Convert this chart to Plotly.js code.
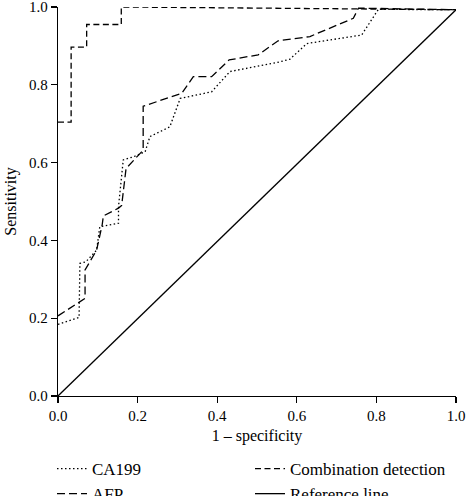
<!DOCTYPE html>
<html>
<head>
<meta charset="utf-8">
<script src="https://cdn.plot.ly/plotly-3.0.1.min.js"></script>
<style>html,body{margin:0;padding:0;background:#fff;}#chart{width:466px;height:496px;}</style>
</head>
<body>
<div id="chart"></div>
<script>
// CA199 ROC curve (dotted)
const ca199X = [0, 0.053, 0.055, 0.07, 0.097, 0.105, 0.152, 0.152, 0.164, 0.19, 0.219, 0.231, 0.281, 0.307, 0.386, 0.432, 0.549, 0.583, 0.625, 0.763, 0.805, 1.0];
const ca199Y = [0.184, 0.202, 0.341, 0.345, 0.375, 0.435, 0.444, 0.487, 0.607, 0.615, 0.628, 0.667, 0.692, 0.765, 0.782, 0.834, 0.857, 0.866, 0.906, 0.928, 0.994, 0.993];
// AFP ROC curve (long dashes)
const afpX = [0, 0.058, 0.068, 0.068, 0.097, 0.111, 0.114, 0.152, 0.160, 0.171, 0.214, 0.214, 0.311, 0.34, 0.386, 0.43, 0.503, 0.553, 0.633, 0.742, 0.755, 1.0];
const afpY = [0.206, 0.245, 0.251, 0.324, 0.375, 0.44, 0.463, 0.483, 0.49, 0.585, 0.632, 0.745, 0.778, 0.821, 0.821, 0.864, 0.877, 0.913, 0.924, 0.971, 0.997, 0.993];
// Combination detection ROC curve (short dashes)
const comboX = [0, 0.033, 0.033, 0.072, 0.072, 0.159, 0.159, 1.0];
const comboY = [0.704, 0.704, 0.897, 0.897, 0.955, 0.955, 1.0, 0.993];
// Reference line
const refX = [0, 1.0];
const refY = [0, 0.993];

const serif = 'Liberation Serif';
const traces = [
  {x: refX, y: refY, mode: 'lines', name: 'Reference line', legendrank: 4,
   line: {color: '#000', width: 1.3, dash: 'solid'}},
  {x: ca199X, y: ca199Y, mode: 'lines', name: 'CA199', legendrank: 1,
   line: {color: '#000', width: 1.3, dash: '1.5px,2.5px'}},
  {x: afpX, y: afpY, mode: 'lines', name: 'AFP', legendrank: 3,
   line: {color: '#000', width: 1.3, dash: '8px,4px'}},
  {x: comboX, y: comboY, mode: 'lines', name: 'Combination detection', legendrank: 2,
   line: {color: '#000', width: 1.3, dash: '6px,3.5px'}}
];

const axisCommon = {
  range: [0, 1], dtick: 0.2, tickformat: '.1f', showgrid: false, zeroline: false,
  showline: true, linecolor: '#000', linewidth: 1.2, ticks: 'outside', ticklen: 6,
  tickwidth: 1.2, tickcolor: '#000', tickfont: {family: serif, size: 15, color: '#000'},
  ticklabeloverflow: 'allow', automargin: false, fixedrange: true
};

const layout = {
  width: 466, height: 496,
  margin: {l: 58, r: 10, t: 7, b: 100},
  paper_bgcolor: '#fff', plot_bgcolor: '#fff',
  font: {family: serif, color: '#000'},
  xaxis: Object.assign({}, axisCommon, {title: {text: '1 – specificity', font: {family: serif, size: 16, color: '#000'}, standoff: 6}}),
  yaxis: Object.assign({}, axisCommon, {title: {text: 'Sensitivity', font: {family: serif, size: 16, color: '#000'}, standoff: 8}}),
  showlegend: true,
  legend: {xref: 'container', yref: 'container', x: 52 / 466, y: 1 - 451 / 496,
           xanchor: 'left', yanchor: 'top', orientation: 'h', traceorder: 'normal',
           entrywidth: 153, entrywidthmode: 'pixels',
           font: {family: serif, size: 17, color: '#000'}, bgcolor: 'rgba(0,0,0,0)', itemwidth: 30}
};

Plotly.newPlot('chart', traces, layout, {displayModeBar: false, staticPlot: true});
</script>
</body>
</html>
